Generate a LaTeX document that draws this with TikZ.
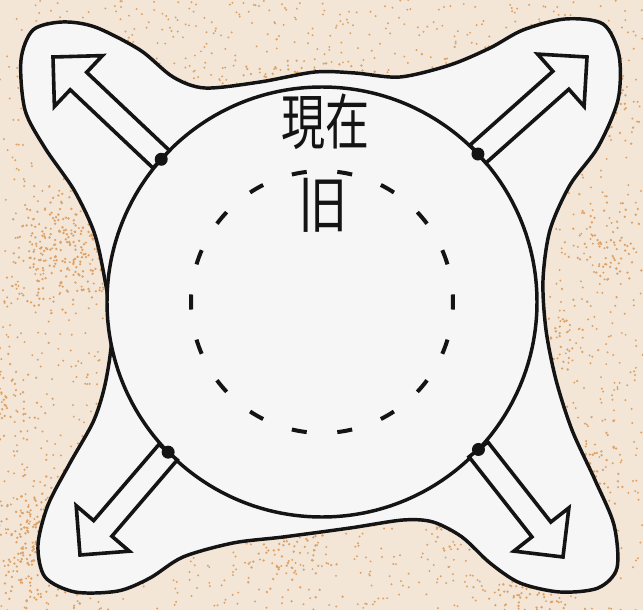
\documentclass[tikz,border=0pt]{standalone}
\usepackage{fontspec}
\newfontfamily\cjk{Noto Sans CJK JP}
\usetikzlibrary{calc}
\definecolor{bgbase}{RGB}{243,230,215}
\definecolor{speck}{RGB}{222,162,104}
\definecolor{paper}{RGB}{246,246,246}
\definecolor{ink}{RGB}{20,20,20}
\begin{document}
\begin{tikzpicture}[x=0.75pt,y=-0.75pt,
  outline/.style={draw=ink,line width=2.6pt,fill=paper},
  bigcircle/.style={draw=ink,line width=2.6pt,fill=paper},
  dashseg/.style={draw=ink,line width=3pt},
  hollowarrow/.style={draw=ink,line width=2.7pt,fill=paper,line join=miter},
  joint/.style={fill=ink},
  label/.style={text=ink,inner sep=0pt,font=\cjk\fontsize{33}{36}\selectfont}]
\useasboundingbox (0,0) rectangle (643,610);
\fill[bgbase] (0,0) rectangle (643,610);
\pgfmathsetseed{7}
\foreach \i in {1,...,2400}
  \fill[speck] ({rnd*643},{rnd*610}) circle[radius=1.1];
\foreach \k in {1,...,30}{
  \pgfmathsetmacro\cx{rnd*643}
  \pgfmathsetmacro\cy{rnd*610}
  \foreach \i in {1,...,80}
    \fill[speck] ({\cx+(rnd+rnd+rnd-1.5)*45},{\cy+(rnd+rnd+rnd-1.5)*45}) circle[radius=1.3];
}
% blob outline
\path[outline] plot[smooth cycle,tension=0.5] coordinates {
 (62,22) (95,27) (140,50) (173,77) (205,88) (260,82) (315,72) (355,73)
 (400,77) (450,65) (490,48) (523,30) (565,19) (603,24) (619,55) (618,100)
 (598,147) (570,185) (550,230) (543,280) (546,330) (556,380) (572,430)
 (595,480) (614,525) (617,568) (598,588) (560,592) (520,583) (490,563)
 (462,537) (433,522) (403,520) (350,528) (283,537) (233,543) (183,557)
 (150,578) (118,591) (75,592) (45,577) (38,545) (48,505) (70,463)
 (94,420) (106,380) (112,330) (104,275) (94,232) (74,190) (45,148)
 (25,110) (21,60) (33,30)};
% big circle
\coordinate (c) at (322,302);
\path[bigcircle] (c) circle[radius=215];
% dashed inner circle
\foreach \a in {0,20,...,340}
  \draw[dashseg] ($(c)+(\a-3.3:131)$) arc[start angle=\a-3.3,end angle=\a+3.3,radius=131];
% joints and tips
\coordinate (d1) at ($(c)+(221.6:215)$);
\coordinate (d2) at ($(c)+(316.5:215)$);
\coordinate (d3) at ($(c)+(135.7:215)$);
\coordinate (d4) at ($(c)+(43.3:215)$);
\coordinate (t1) at (53,57);
\coordinate (t2) at (587,57);
\coordinate (t3) at (80,555);
\coordinate (t4) at (563,557);
\foreach \d/\t in {d1/t1,d2/t2,d3/t3,d4/t4}{
  \coordinate (h) at ($(\t)!26.25pt!(\d)$);
  \path[hollowarrow] ($(\d)!9pt!90:(\t)$) -- ($(h)!9pt!-90:(\d)$)
    -- ($(h)!26.25pt!-90:(\d)$) -- (\t) -- ($(h)!26.25pt!90:(\d)$)
    -- ($(h)!9pt!90:(\d)$) -- ($(\d)!9pt!-90:(\t)$) -- cycle;
}
\foreach \d in {d1,d2,d3,d4}
  \fill[joint] (\d) circle[radius=6.5];
% labels
\node[label] (now) at (325,122) {\scalebox{1}[1.37]{現在}};
\node[label] (old) at (323,205) {\scalebox{1.12}[1.4]{旧}};
\end{tikzpicture}
\end{document}
